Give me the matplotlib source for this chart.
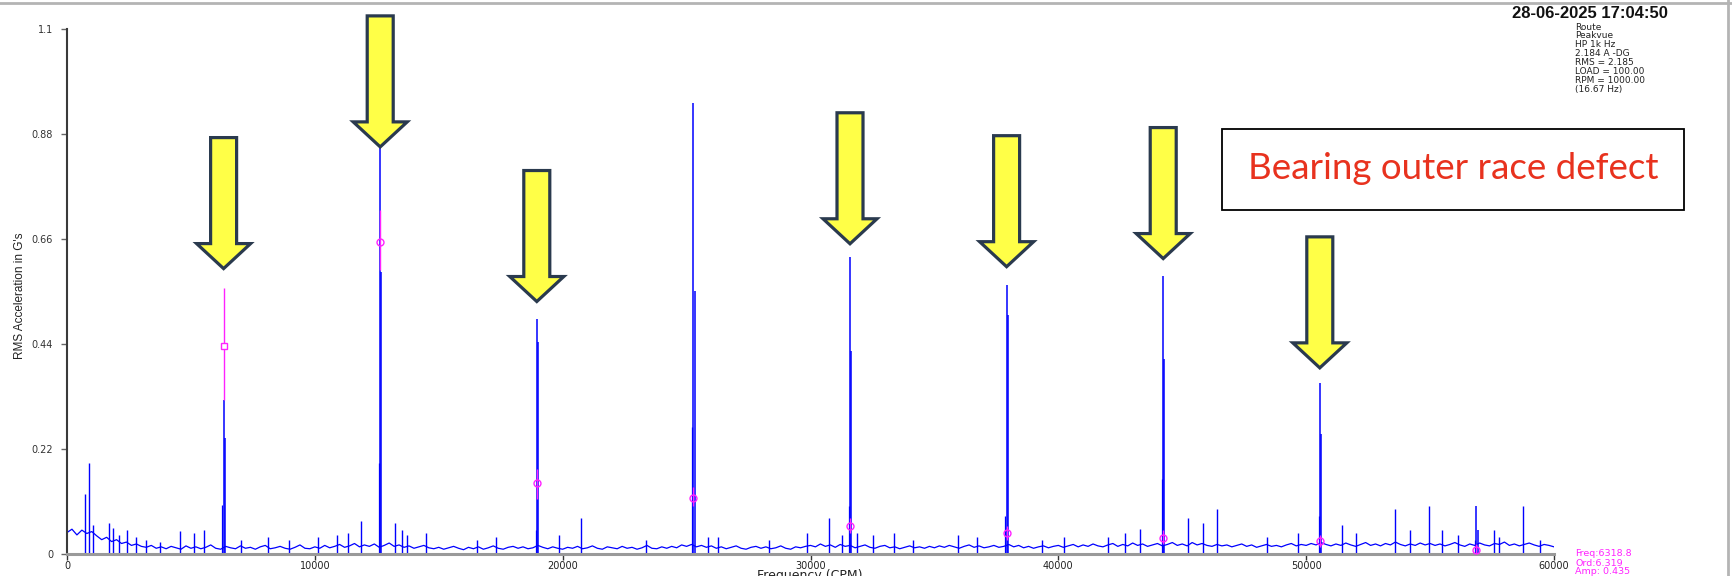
import matplotlib

matplotlib.use("Agg")
import matplotlib.pyplot as plt
import matplotlib.transforms as mtransforms
import numpy as np
from matplotlib.lines import Line2D
from matplotlib.patches import Polygon, Rectangle

# spectrum floor, one reading every 200 CPM from 0 to 60000 CPM
floor_step = 200
floor_amp = [
    0.045, 0.052, 0.040, 0.050, 0.043, 0.047, 0.038, 0.030, 0.035, 0.026, 0.030, 0.022, 0.025,
    0.018, 0.021, 0.016, 0.014, 0.018, 0.012, 0.015, 0.011, 0.016, 0.013, 0.010, 0.017,
    0.012, 0.015, 0.011, 0.014, 0.019, 0.012, 0.010, 0.016, 0.013, 0.011, 0.017, 0.012, 0.014,
    0.010, 0.015, 0.018, 0.011, 0.013, 0.016, 0.012, 0.010, 0.014, 0.019, 0.012, 0.011,
    0.015, 0.012, 0.018, 0.013, 0.016, 0.020, 0.014, 0.017, 0.022, 0.015, 0.019, 0.016, 0.021,
    0.014, 0.018, 0.023, 0.016, 0.019, 0.014, 0.017, 0.012, 0.015, 0.018, 0.013, 0.011,
    0.014, 0.010, 0.013, 0.016, 0.012, 0.009, 0.014, 0.011, 0.015, 0.010, 0.013, 0.017, 0.012,
    0.010, 0.014, 0.016, 0.012, 0.015, 0.011, 0.013, 0.018, 0.014, 0.011, 0.015, 0.012,
    0.010, 0.014, 0.012, 0.016, 0.011, 0.013, 0.017, 0.012, 0.010, 0.015, 0.013, 0.011, 0.016,
    0.012, 0.014, 0.010, 0.013, 0.018, 0.012, 0.011, 0.015, 0.012, 0.016, 0.013, 0.019,
    0.016, 0.020, 0.015, 0.018, 0.014, 0.017, 0.012, 0.015, 0.011, 0.014, 0.017, 0.012, 0.010,
    0.014, 0.016, 0.012, 0.015, 0.011, 0.013, 0.017, 0.012, 0.010, 0.015, 0.013, 0.016,
    0.018, 0.015, 0.021, 0.016, 0.019, 0.014, 0.020, 0.016, 0.018, 0.013, 0.016, 0.019, 0.014,
    0.012, 0.016, 0.018, 0.013, 0.015, 0.011, 0.014, 0.017, 0.013, 0.015, 0.012, 0.016,
    0.013, 0.017, 0.014, 0.018, 0.015, 0.012, 0.016, 0.019, 0.014, 0.017, 0.013, 0.015, 0.018,
    0.014, 0.016, 0.020, 0.015, 0.018, 0.013, 0.016, 0.012, 0.015, 0.017, 0.013, 0.016,
    0.018, 0.014, 0.017, 0.020, 0.015, 0.019, 0.016, 0.021, 0.017, 0.015, 0.019, 0.022, 0.016,
    0.020, 0.017, 0.023, 0.018, 0.021, 0.016, 0.019, 0.022, 0.017, 0.020, 0.024, 0.018,
    0.021, 0.017, 0.024, 0.019, 0.022, 0.018, 0.016, 0.020, 0.017, 0.019, 0.015, 0.018, 0.021,
    0.016, 0.019, 0.014, 0.017, 0.020, 0.016, 0.018, 0.015, 0.019, 0.022, 0.017, 0.020,
    0.018, 0.022, 0.019, 0.024, 0.020, 0.017, 0.021, 0.018, 0.023, 0.019, 0.016, 0.020, 0.024,
    0.018, 0.021, 0.017, 0.022, 0.019, 0.025, 0.020, 0.017, 0.021, 0.018, 0.023, 0.019,
    0.022, 0.018, 0.021, 0.017, 0.020, 0.024, 0.019, 0.016, 0.021, 0.018, 0.023, 0.019, 0.017,
    0.022, 0.020, 0.025, 0.018, 0.021, 0.017, 0.020, 0.023, 0.019, 0.016, 0.020, 0.018,
    0.015,
]

# outer race harmonics (1x .. 9x of 6318.8 CPM)
harmonic_cpm = [6319, 12638, 18956, 25275, 31594, 37913, 44232, 50550, 56869]
harmonic_amp = [0.323, 0.870, 0.492, 0.946, 0.622, 0.564, 0.583, 0.358, 0.100]
harmonic_side_amp = [0.243, 0.590, 0.444, 0.552, 0.425, 0.500, 0.409, 0.251, 0.050]
harmonic_left_amp = [0.103, 0.190, 0.050, 0.267, 0.100, 0.080, 0.157, 0.080, 0.030]

# other discrete lines in the spectrum
spike_cpm = [
    730, 890, 1040, 1700, 1840, 2110, 2420, 2780, 3180, 3760, 4560, 5140, 5540, 7010, 8130,
    8975, 10130, 10890, 11340, 11850, 13250, 13500, 13700, 14500, 16550, 17310, 19850, 20740,
    23370, 25870, 26270, 28320, 29850, 30750, 31260, 31890, 32510, 33370, 34120, 35950, 36700,
    39330, 40220, 42010, 42680, 43300, 45220, 45840, 46420, 48430, 49680, 51460, 52000, 53600,
    54180, 54940, 55470, 56140, 57570, 57790, 58730, 59440,
]
spike_amp = [
    0.125, 0.190, 0.060, 0.065, 0.055, 0.040, 0.050, 0.035, 0.030, 0.025, 0.048, 0.045, 0.050,
    0.030, 0.035, 0.030, 0.035, 0.040, 0.045, 0.070, 0.065, 0.050, 0.040, 0.045, 0.030, 0.035,
    0.040, 0.075, 0.030, 0.035, 0.035, 0.030, 0.045, 0.075, 0.040, 0.045, 0.040, 0.045, 0.030,
    0.040, 0.035, 0.030, 0.035, 0.035, 0.045, 0.052, 0.075, 0.065, 0.095, 0.035, 0.045, 0.060,
    0.045, 0.095, 0.050, 0.100, 0.050, 0.040, 0.050, 0.035, 0.100, 0.030,
]

# magenta harmonic cursor: segment and marker per harmonic
cursor_lo = [0.323, 0.595, 0.115, 0.100, 0.045, 0.030, 0.020, 0.015, 0.000]
cursor_hi = [0.558, 0.721, 0.178, 0.140, 0.075, 0.058, 0.050, 0.040, 0.020]
cursor_amp = [0.435, 0.654, 0.149, 0.117, 0.059, 0.043, 0.034, 0.027, 0.008]

# arrows drawn over harmonics (order number) with tip level in G
arrow_order = [1, 2, 3, 5, 6, 7, 8]
arrow_tip_amp = [0.598, 0.853, 0.529, 0.650, 0.602, 0.619, 0.390]

y_ticks = [0, 0.22, 0.44, 0.66, 0.88, 1.1]
y_tick_labels = ["0", "0.22", "0.44", "0.66", "0.88", "1.1"]
x_ticks = [0, 10000, 20000, 30000, 40000, 50000, 60000]

stamp = "28-06-2025 17:04:50"
info_lines = [
    "Route", "Peakvue", "HP 1k Hz", "2.184 A -DG", "RMS = 2.185",
    "LOAD = 100.00", "RPM = 1000.00", "(16.67 Hz)",
]
cursor_lines = ["Freq:6318.8", "Ord:6.319", "Amp: 0.435"]
note = "Bearing outer race defect"

W, H = 1732, 576
BLUE = "#0000ff"
MAG = "#ff22ff"

fig = plt.figure(figsize=(W / 100, H / 100), dpi=100)
ax = fig.add_axes([67 / W, 22 / H, (1554 - 67) / W, (554 - 29) / H])

freq = np.arange(len(floor_amp)) * floor_step
ax.plot(freq, floor_amp, color=BLUE, lw=0.9, zorder=2)
ax.vlines(spike_cpm, 0, spike_amp, color=BLUE, lw=1.0, zorder=2)

hc = np.array(harmonic_cpm)
ax.vlines(hc, 0, harmonic_amp, color=BLUE, lw=1.1, zorder=2)
ax.vlines(hc + 45, 0, harmonic_side_amp, color=BLUE, lw=1.1, zorder=2)
ax.vlines(hc - 45, 0, harmonic_left_amp, color=BLUE, lw=0.9, zorder=2)

ax.vlines(hc, cursor_lo, cursor_hi, color=MAG, lw=1.0, zorder=3)
ax.plot(hc[:1], cursor_amp[:1], ls="none", marker="s", ms=5, mfc="white",
        mec=MAG, mew=1.0, zorder=4)
ax.plot(hc[1:], cursor_amp[1:], ls="none", marker="o", ms=5, mfc="none",
        mec=MAG, mew=1.0, zorder=4)

ax.set_xlim(0, 60000)
ax.set_ylim(0, 1.1)
ax.set_xticks(x_ticks)
ax.set_xticklabels([str(t) for t in x_ticks])
ax.set_yticks(y_ticks)
ax.set_yticklabels(y_tick_labels)
for s in ("top", "right"):
    ax.spines[s].set_visible(False)
ax.spines["left"].set_color("#3a3a3a")
ax.spines["left"].set_linewidth(1.5)
ax.spines["bottom"].set_color("#9a9a9a")
ax.spines["bottom"].set_linewidth(2.2)
ax.tick_params(axis="x", length=4, width=1, color="#333333", pad=1,
               labelsize=8, labelcolor="#222222")
ax.tick_params(axis="y", length=4, width=1, color="#666666", pad=6,
               labelsize=7.5, labelcolor="#333333")
for lab in ax.get_xticklabels() + ax.get_yticklabels():
    lab.set_family("DejaVu Sans")
    lab.set_fontsize(7)

fig.text(20 / W, 1 - 296 / H, "RMS Acceleration in G's", rotation=90,
         ha="center", va="center", fontsize=8.5,
         family=["Liberation Sans Narrow", "Liberation Sans"], color="#222222")
fig.text(810 / W, 7 / H, "Frequency (CPM)", ha="center", va="top",
         fontsize=9, family="DejaVu Sans", color="#222222")

# header and cursor readouts
fig.text(1668 / W, 1 - 13 / H, stamp, ha="right", va="center", fontsize=12,
         fontweight="bold", family="Liberation Sans", color="#111111")
for i, line in enumerate(info_lines):
    fig.text(1575 / W, 1 - (27 + 8.95 * i) / H, line, ha="left", va="center",
             fontsize=6.5, family="DejaVu Sans", color="#222222")
for i, line in enumerate(cursor_lines):
    fig.text(1575 / W, 1 - (554 + 9 * i) / H, line, ha="left", va="center",
             fontsize=6.8, family="DejaVu Sans", color=MAG)

# window frame lines of the screenshot
fig.add_artist(Line2D([0, 1], [1 - 3 / H, 1 - 3 / H], transform=fig.transFigure,
                      color="#b4b4b4", lw=2))
fig.add_artist(Line2D([1728 / W, 1728 / W], [0, 1], transform=fig.transFigure,
                      color="#b4b4b4", lw=2))

# yellow arrows, sized in pixels, pointing at the harmonic lines
shape = np.array([
    [0, 0], [27, 25], [13, 25], [13, 131], [-13, 131], [-13, 25], [-27, 25],
])
for order, tip in zip(arrow_order, arrow_tip_amp):
    tx, ty = ax.transData.transform((harmonic_cpm[order - 1], tip))
    verts = shape + [tx, ty]
    fig.add_artist(Polygon(verts, closed=True, transform=mtransforms.IdentityTransform(),
                           facecolor="#ffff47", edgecolor="#2a3a4e", lw=2.3,
                           joinstyle="miter", zorder=6))

# annotation box
fig.add_artist(Rectangle((1222, H - 210), 1684 - 1222, 210 - 129,
                         transform=mtransforms.IdentityTransform(), facecolor="white",
                         edgecolor="black", lw=1.3, zorder=6))
fig.text(1453 / W, 1 - 168 / H, note, ha="center", va="center", fontsize=26.5,
         family="Lato", color="#e8321e", zorder=7)

fig.savefig("out.png", dpi=100)
